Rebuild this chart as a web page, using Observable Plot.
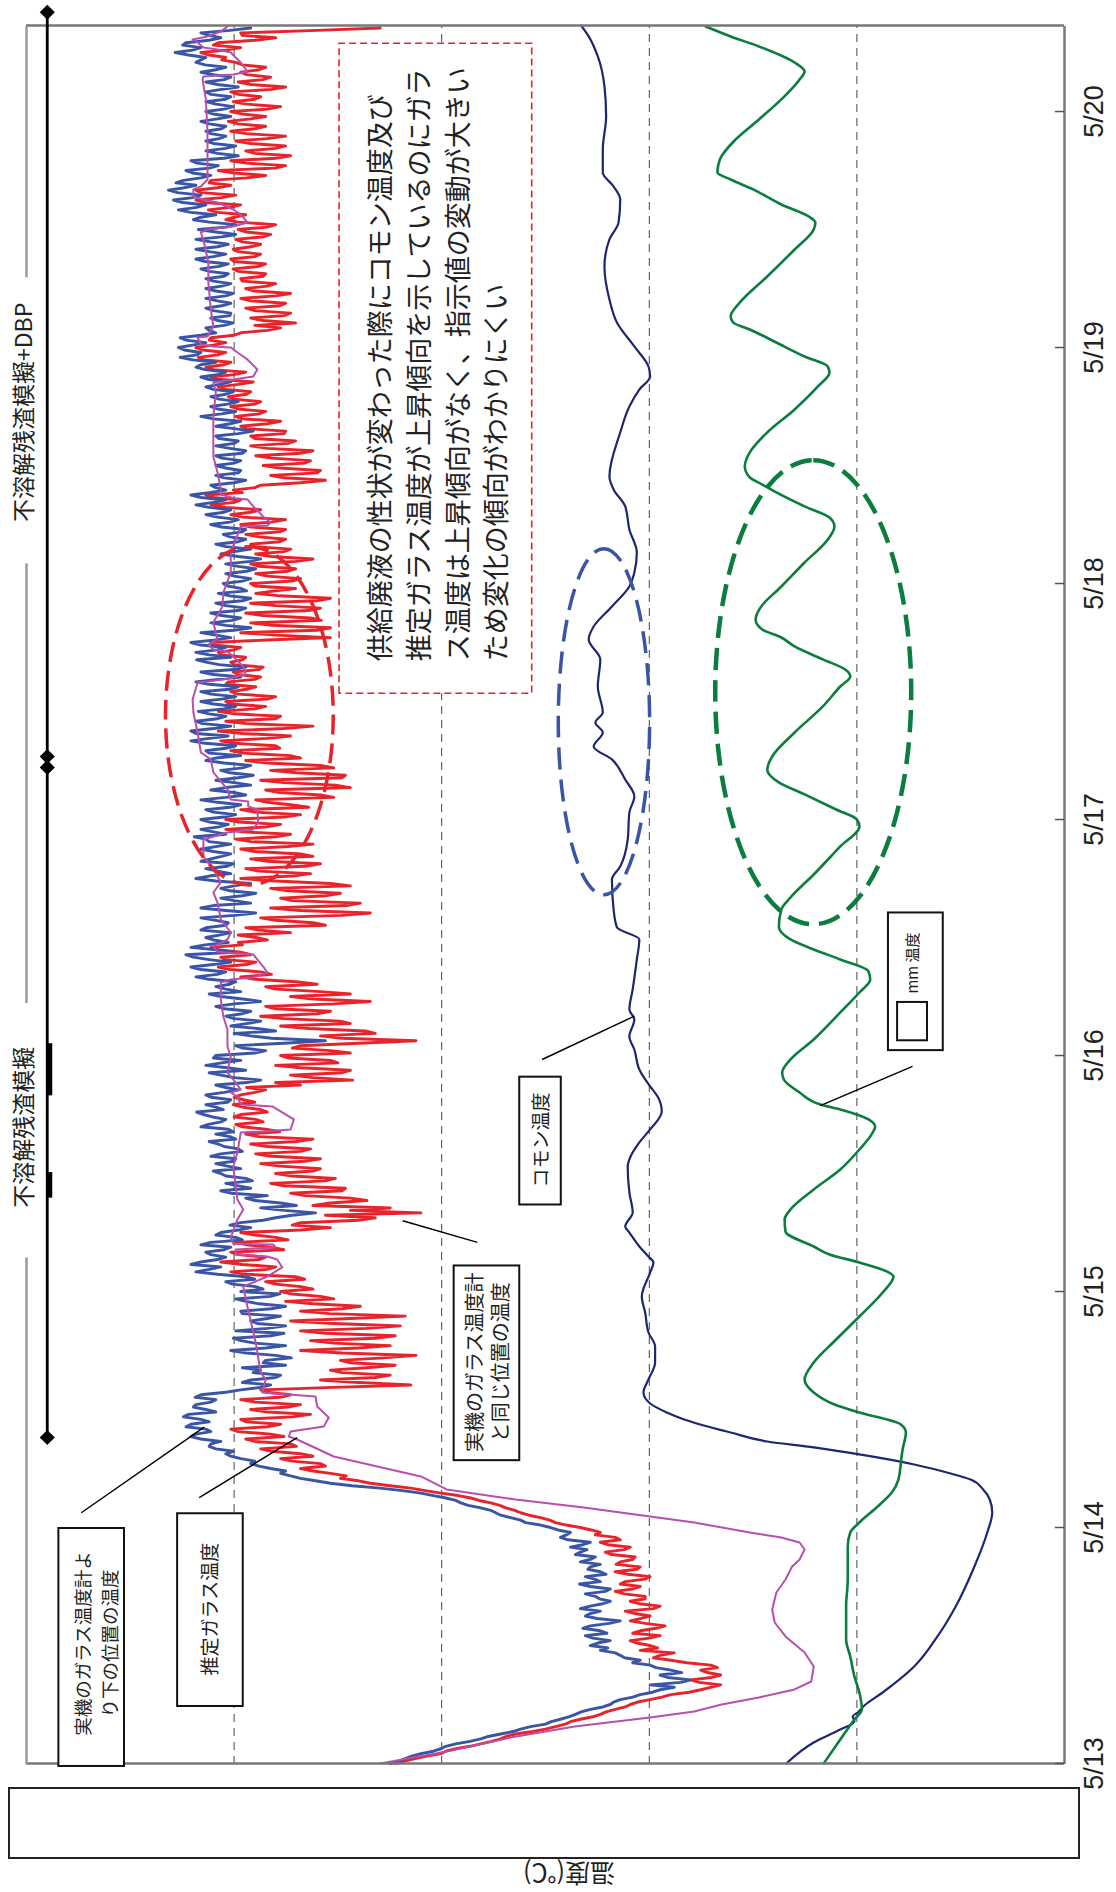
<!DOCTYPE html>
<html><head><meta charset="utf-8">
<script src="https://cdn.jsdelivr.net/npm/d3@7"></script>
<script src="https://cdn.jsdelivr.net/npm/@observablehq/plot@0.6"></script>
<style>
body{margin:0;background:#fff;}
#page{position:relative;width:1116px;height:1892px;overflow:hidden;background:#fff;}
#rot{position:absolute;left:0;top:0;width:1892px;height:1116px;transform-origin:0 0;transform:translate(0px,1892px) rotate(-90deg);}
#maskbox{position:absolute;left:8px;top:1787px;width:1068px;height:68px;border:2px solid #222;background:#fff;}
#ylabel{position:absolute;left:499px;top:1860px;width:140px;height:30px;text-align:center;font-family:"Noto Sans CJK JP";font-size:25px;line-height:30px;color:#222;transform:rotate(180deg);}
</style></head>
<body><div id="page"><div id="rot"></div><div id="maskbox"></div><div id="ylabel">温度(℃)</div></div>
<script>
// ---- time axis (hours from 5/13 00:00) ----
const dayLabels = ["5/13","5/14","5/15","5/16","5/17","5/18","5/19","5/20"];
const dayHours = [0,24,48,72,96,120,144,168];
const endHour = 176.75;
const gridTemps = [250,500,750,1000];
const stepHours = 0.25;

// 実機のガラス温度計と同じ位置の温度 (red), 15-min samples
const redTemp = [806,795,782,768,751,745,733,716,703,690,679,672,661,640,625,613,601,595,583,568,
559,552,541,529,523,514,499,485,474,452,438,426,414,440,450,425,414,430,438,418,
426,455,474,495,487,470,511,490,499,515,523,500,487,520,511,492,481,505,523,510,
499,517,529,495,487,512,523,505,505,530,541,520,511,535,529,505,499,526,541,515,
511,540,535,520,517,545,553,530,523,550,559,535,541,565,559,570,583,600,613,620,
631,645,655,662,673,680,691,705,715,730,751,770,787,812,836,850,872,865,884,905,
920,890,896,930,944,905,920,955,968,925,932,975,986,940,956,995,1004,960,944,985,
992,930,908,960,980,935,920,975,992,945,932,960,968,880,787,850,896,830,812,870,
884,840,806,860,872,820,781,870,920,850,812,880,908,830,806,890,920,840,800,880,
932,860,794,885,920,870,848,905,938,880,896,930,944,905,920,950,962,915,926,985,
1004,960,950,990,1016,970,962,995,1004,940,956,985,998,935,950,975,992,920,884,930,
920,850,830,890,775,860,812,905,884,840,860,915,932,870,866,940,956,890,878,930,
950,905,896,945,968,915,896,955,974,920,908,960,980,925,905,970,986,945,962,990,
998,965,974,1000,992,960,968,990,1001,975,989,1000,992,975,962,985,920,950,857,905,
932,870,860,920,950,875,884,935,944,860,884,930,920,850,781,870,896,830,842,910,
944,860,872,940,968,900,884,950,962,880,836,905,932,860,896,950,962,900,926,975,
992,955,968,1005,1019,985,974,1010,1016,980,992,1020,1028,990,995,960,974,995,932,970,
986,890,905,950,968,870,836,920,956,865,848,930,944,890,872,935,956,860,884,950,
992,930,908,970,986,915,896,960,980,905,920,975,992,935,905,980,998,950,932,990,
1010,960,944,995,1010,940,920,975,992,910,932,960,974,880,896,945,962,860,878,940,
968,870,866,925,956,880,896,960,986,920,932,990,1004,945,950,1000,1016,960,932,990,
1019,940,905,985,1010,950,944,1000,1019,975,962,1005,1010,960,950,995,1004,985,974,1010,
1007,975,968,995,1001,970,965,1000,1004,990,986,1015,1019,1000,992,1025,1028,960,884,950,
992,900,884,955,980,895,908,965,986,910,896,950,980,900,884,945,974,950,926,975,
980,930,920,960,974,935,926,970,980,925,905,955,974,940,932,975,980,945,938,970,
986,945,938,980,992,955,938,990,1004,980,968,1010,1028,1000,992,1025,1034,990,1001,975,
968,920,890,940,956,900,896,945,965,915,908,955,974,920,905,960,980,935,926,975,
980,940,938,985,992,960,944,990,998,970,962,995,1004,975,968,1000,1007,985,980,1010,
1019,995,977,1015,1028,1000,986,1025,1034,1012,1004,1035,1043,1020,1010,1038,1046,1025,1010,1030,
1028,1000,992,960,944,975,926,965,980,940,932,975,986,945,938,980,992,950,932,975,
986,960,950,990,992,965,962,995,1001,970,962,1000,1004,975,968,995,1001,980,968,990,
998,965,956,985,995,960,950,995,1010,1000,986,1020,1031,1005,992,1035,1046,1015,998,1040,
1046,1020,1004,1030,1028,985,962,1000,1019,950,938,985,1004,950,932,975,986,950,938,980,
998,960,938,985,1004,975,962,995,1007,980,962,990,1004,960,944,985,1001,975,968,995,
1004,955,938,980,995,965,956,985,992,970,962,990,998,1015,1010,1030,1040,1010,992,1025,
1019,975,950,990,992,900,824];

// 実機のガラス温度計より下の位置の温度 (blue), 15-min samples
const blueTemp = [812,801,794,786,775,760,751,745,733,716,703,694,679,664,655,643,625,618,607,597,
589,582,571,556,547,543,535,520,511,496,487,470,499,462,450,478,487,461,474,492,
499,520,511,530,535,541,559,550,571,562,547,568,577,551,559,580,571,548,535,563,
577,571,559,583,571,556,547,560,565,577,553,547,571,584,559,566,577,552,559,574,
571,559,583,571,565,589,583,575,595,580,571,598,607,600,595,610,619,631,649,655,
667,679,685,691,703,718,727,733,745,760,775,797,824,858,884,902,920,932,944,938,
956,970,980,975,992,1004,1010,1001,1022,1030,1028,1016,1040,1052,1046,1028,1034,1058,1052,1030,
1040,1061,1055,1022,1034,1049,1046,1028,1022,1047,1040,1010,992,968,956,990,980,950,944,977,
968,990,938,965,962,931,950,985,1004,962,938,975,992,1001,956,940,998,960,938,972,
980,960,944,990,992,955,938,970,986,998,956,945,992,965,974,1002,1010,975,986,1020,
1046,1030,1016,1052,1040,1020,1010,1028,1034,1012,1004,1040,1028,990,998,1022,1016,995,980,1005,
992,965,950,930,902,940,968,925,944,975,986,960,1004,1016,980,995,1010,978,986,1010,
1016,1025,992,1008,1022,1000,998,1028,1016,990,995,1012,1019,1030,998,1005,1022,1001,1007,1040,
1031,1016,1010,1026,1037,1045,1013,1022,1034,1008,1004,1028,1034,1012,995,1010,1022,985,968,1000,
1016,1030,986,1008,1034,1015,992,1025,1022,975,962,990,998,940,890,955,980,1000,950,972,
1004,985,968,1000,1010,990,980,1012,1022,1000,968,990,1016,1030,992,1010,1022,1005,998,1030,
1046,1020,1010,1040,1052,1025,1004,1030,1049,1058,1001,1022,1052,1035,1007,1025,1034,1018,1004,1040,
1034,1010,1007,1022,1040,1000,974,1010,1040,1025,980,1000,1016,990,974,1005,1016,1000,980,1022,
1046,1030,1004,1020,1034,1008,1001,1040,1028,1015,1004,1025,1040,1022,1004,1030,1034,1048,1010,1025,
1040,1018,1007,1030,1040,1012,998,1025,1034,1005,992,1020,1040,1010,986,1000,1028,1010,980,1000,
1022,995,977,1005,1016,990,980,1012,1034,1022,992,1030,1034,1010,998,1035,1052,1030,1007,1046,
1052,1025,1004,1038,1046,1020,1010,1030,1043,1012,998,1025,1040,1015,998,1028,1040,1005,995,1030,
1046,1020,992,1025,1040,1000,986,1018,1034,1045,1004,1030,1046,1020,1010,1040,1052,1025,1004,1022,
1040,1000,980,1010,1028,1002,992,1015,1028,995,986,1010,1022,990,980,1005,1019,985,992,1008,
1013,990,980,1000,1010,985,974,995,1010,980,968,995,1016,1000,980,1010,1022,995,986,1005,
1013,990,986,1015,1028,1005,995,1020,1034,1012,1004,1030,1046,1025,1010,1040,1052,1030,1010,1022,
1028,1000,986,1012,1022,995,992,1010,1022,1000,992,1015,1022,990,986,1005,1022,1000,995,1018,
1022,995,977,1000,1022,1005,992,1025,1040,1015,998,1020,1028,1008,995,1018,1028,1010,1001,1025,
1034,1018,1004,1030,1040,1020,1010,1035,1046,1040,1022,1050,1065,1045,1040,1060,1067,1050,1034,1058,
1065,1040,1022,1030,1034,1012,1001,1020,1028,1005,1004,1025,1034,1015,1004,1020,1034,1010,1001,1022,
1034,1015,1004,1025,1034,1012,1007,1030,1040,1018,1007,1035,1046,1025,1010,1030,1046,1020,1007,1028,
1046,1015,998,1022,1043,1010,998,1030,1049,1040,1022,1052,1067,1045,1034,1062,1073,1050,1040,1068,
1079,1060,1046,1070,1061,1040,1028,1050,1058,1030,1019,1045,1052,1012,995,1020,1034,1010,998,1025,
1034,1018,1010,1028,1034,1015,1010,1030,1040,1020,1004,1025,1034,1012,1001,1022,1034,1010,1004,1028,
1034,1015,995,1020,1034,1012,1004,1025,1040,1022,1010,1035,1046,1040,1034,1055,1071,1050,1040,1062,
1058,1030,1016,1030,1040,1005,980];

// 推定ガラス温度 (magenta)
const magHour = [0,1.22,2.64,3.76,4.68,5.29,6.0,6.71,7.53,8.34,
9.86,11.29,12.92,14.34,15.66,17.39,18.71,20.03,20.75,21.76,
22.48,22.98,23.49,24.51,25.12,26.03,26.85,27.87,29.19,31.22,
32.95,33.25,33.76,34.27,35.19,36.31,37.32,37.73,39.05,39.77,
42.82,46.48,48.51,48.92,49.53,50.45,51.26,51.56,51.77,52.27,
52.48,52.78,52.85,53.49,55.32,56.34,57.36,60.71,62.14,64.17,
64.27,64.48,65.50,66.82,67.02,67.83,68.24,68.54,69.56,70.27,
71.90,72.92,74.65,75.97,77.70,79.43,79.73,79.94,80.44,81.05,
82.28,82.40,82.55,83.09,83.80,84.51,85.83,87.56,88.58,89.60,
90.92,92.24,93.97,94.68,94.99,95.70,97.02,97.33,97.84,98.04,
99.06,100.79,102.11,102.82,104.85,106.89,108.21,109.94,110.04,110.24,
110.75,111.56,112.58,113.09,113.29,113.80,114.31,116.04,117.67,119.09,
121.13,123.16,125.80,125.90,126.21,126.82,127.84,128.55,128.70,129.06,
129.57,131.30,132.92,136.99,139.43,140.45,140.75,141.06,141.77,142.79,
143.50,144.01,144.11,144.31,145.02,145.12,146.14,147.87,150.62,152.65,
154.99,155.70,156.01,156.31,156.72,157.53,158.04,158.75,159.06,159.36,
160.08,160.38,161.09,163.43,165.87,169.23,171.26,171.57,171.77,172.08,
172.99,174.01,174.31,174.52,175.03,175.33,175.64,176.14,176.65];
const magTemp = [824,744,667,590,499,446,413,368,325,305,
302,313,336,349,352,347,336,328,319,313,
319,341,379,446,499,579,661,744,775,880,
924,934,932,892,886,900,902,966,962,968,
974,984,989,977,960,942,948,960,998,998,
950,953,1001,1004,996,989,996,1001,996,992,
965,932,928,954,992,996,1004,992,1001,1008,
1004,1008,1008,1013,1016,1016,1004,977,960,965,
977,1001,1020,1025,1008,1004,1016,1020,1025,1016,
1025,1037,1037,1008,977,971,972,983,983,1004,
1008,1025,1028,1040,1044,1049,1050,1044,1032,1014,
986,989,1001,1008,1025,1031,1020,1025,1014,1013,
1004,1004,992,960,956,965,977,984,1001,1016,
1016,1020,1025,1025,1022,1025,1001,977,972,984,
996,1004,1025,1040,1044,1032,1025,1028,1031,1031,
1037,1040,1032,1001,984,992,1001,1020,1037,1049,
1049,1040,1032,1032,1032,1034,1038,1037,1001,984,
992,1004,1020,1037,1044,1050,1032,1016,1008];

// コモン温度 (navy)
const comHour = [0,2.14,3.46,4.27,4.78,5.19,5.90,7.22,9.86,12.92,
15.97,19.73,23.49,25.53,26.85,27.87,28.88,29.49,30.41,31.43,
32.14,32.75,33.66,34.99,35.70,36.61,37.73,39.05,40.78,42.41,
43.83,45.87,47.49,49.93,50.95,51.56,52.58,54.00,54.61,56.04,
58.07,60.71,61.43,63.16,64.48,66.31,67.83,68.85,70.58,72.61,
73.94,75.66,76.68,78.72,81.77,83.80,85.02,86.85,89.90,91.22,
93.97,96.72,98.34,100.07,102.11,103.43,104.85,105.87,106.89,109.53,
112.28,114.31,115.63,117.67,119.70,121.12,123.16,125.50,127.84,129.57,
130.89,135.36,138.00,139.73,141.06,142.07,144.11,146.55,148.89,152.25,
154.99,156.72,159.06,160.38,161.80,164.14,167.50,170.55,173.60,175.64,
176.75];
const comTemp = [335,302,270,253,255,249,241,219,181,153,
131,110,93,87,90,98,113,137,181,247,
302,358,402,458,479,499,507,501,493,493,
501,505,509,499,495,501,512,524,529,520,
524,526,524,512,499,485,490,499,512,518,
524,518,524,520,515,512,539,543,545,535,
526,524,518,529,545,567,556,565,556,562,
559,573,567,545,524,518,515,524,529,543,
548,535,524,512,499,501,518,539,548,554,
548,537,535,543,556,556,552,554,562,573,
582];

// □mm 温度 (green)
const grHour = [0,2.44,4.47,5.49,7.22,8.85,10.88,12.61,15.97,18.71,
22.07,23.49,24.51,26.14,27.56,28.88,30.61,31.93,33.66,34.48,
35.70,36.51,37.73,39.05,40.78,43.12,45.46,47.90,49.53,50.04,
50.95,51.77,52.58,54.10,55.32,56.34,58.38,60.41,62.44,64.17,
64.78,65.50,66.51,67.02,68.24,69.56,70.27,71.60,73.63,76.38,
78.41,79.73,80.55,81.77,82.78,83.80,85.12,86.85,88.07,90.41,
93.26,95.29,96.00,97.02,98.55,99.77,101.09,102.41,104.85,107.50,
109.53,110.55,111.26,112.28,113.60,114.51,115.33,116.35,117.57,119.70,
122.14,124.48,125.80,126.72,127.84,129.26,130.07,130.79,131.91,133.33,
135.36,137.70,140.04,141.46,142.07,143.09,144.51,145.84,146.55,147.16,
148.58,151.23,153.97,156.01,156.72,157.33,158.55,160.08,161.09,161.80,
163.13,165.16,167.19,169.23,171.26,172.08,172.99,174.62,175.64,176.65];
const grTemp = [290,270,253,244,247,253,258,263,263,261,
261,258,247,225,208,200,197,195,191,197,
247,277,302,313,302,275,247,219,206,214,
247,283,302,336,337,330,302,270,247,231,
228,236,270,294,319,338,340,330,302,270,
247,234,236,270,302,330,344,341,330,302,
270,247,250,275,313,344,358,352,325,291,
270,258,264,291,325,341,364,372,366,341,
313,285,277,283,313,347,364,379,385,379,
358,325,297,283,285,313,347,379,399,402,
391,358,325,302,300,308,341,375,402,418,
415,396,368,341,319,313,325,368,402,432];

// ---- phases ----
const phaseStart = 33.15, phaseEnd = 178.1;
const phaseDiamonds = [33.15, 101.3, 102.4, 178.1];
const phaseThick = [[57.6,60.2],[68.0,73.3]];
const phaseLabels = [{h:64.7, text:"不溶解残渣模擬"},{h:137.4, text:"不溶解残渣模擬+DBP"}];
const frameTopSegs = [[0,51.5],[77.4,122.1],[151.2,endHour]];

// ---- annotations ----
const noteLines = ["供給廃液の性状が変わった際にコモン温度及び","推定ガラス温度が上昇傾向を示しているのにガラ","ス温度は上昇傾向がなく、指示値の変動が大きい","ため変化の傾向がわかりにくい"];
const noteBox = {h1:108.9,h2:175.0,T1:641,T2:873, th:112.1, tT:757};
const labelBoxes = [
 {h1:30.9,h2:50.7,T1:656,T2:735, th:40.8, tT:696, size:20, lh:1.3, text:"実機のガラス温度計\nと同じ位置の温度"},
 {h1:56.9,h2:69.9,T1:606,T2:656, th:63.4, tT:631, size:19, lh:1.3, text:"コモン温度"},
 {h1:5.9,h2:25.5,T1:989,T2:1068, th:15.7, tT:1030, size:19, lh:1.3, text:"推定ガラス温度"},
 {h1:-0.2,h2:24.0,T1:1132,T2:1211, th:12.2, tT:1168, size:18.5, lh:1.45, text:"実機のガラス温度計よ\nり下の位置の温度"},
 {h1:72.6,h2:86.6,T1:146,T2:212, th:null}
];
const mmSquare = {h1:73.6,h2:77.5,T1:165,T2:201};
const mmLabel = {h:78.3, T:182, text:"mm 温度"};
const leaders = [
 {h1:53.0,T1:707,h2:55.2,T2:797},
 {h1:71.6,T1:629,h2:76.0,T2:518},
 {h1:70.9,T1:183,h2:66.9,T2:294},
 {h1:27.05,T1:1042,h2:33.15,T2:924},
 {h1:25.5,T1:1184,h2:34.2,T2:1036}
];
const ellipses = [
 {h:106.6,T:981,rh:17.2,rT:101,color:"#e8232a",w:3.5,dash:"20,9"},
 {h:106.0,T:554,rh:17.6,rT:55,color:"#3a55a5",w:3.5,dash:"22,10"},
 {h:109.0,T:302,rh:23.6,rT:118,color:"#0b7d3e",w:4.5,dash:"22,10"}
];

const red = redTemp.map((T,i)=>({h:i*stepHours,T}));
const blue = blueTemp.map((T,i)=>({h:i*stepHours,T}));
const mag = magHour.map((h,i)=>({h,T:magTemp[i]}));
const com = comHour.map((h,i)=>({h,T:comTemp[i]}));
const gr = grHour.map((h,i)=>({h,T:grTemp[i]}));

const jp = "Noto Sans CJK JP";
const chart = Plot.plot({
  width:1892, height:1116,
  marginLeft:128, marginRight:26, marginTop:26, marginBottom:52,
  x:{domain:[0,endHour], axis:null},
  y:{domain:[0,1250], axis:null},
  style:{background:"white", overflow:"visible"},
  marks:[
    Plot.ruleY(gridTemps,{stroke:"#444",strokeWidth:1,strokeDasharray:"8,6"}),
    Plot.line(red,{x:"h",y:"T",stroke:"#e8232a",strokeWidth:2.9}),
    Plot.line(blue,{x:"h",y:"T",stroke:"#3a55a5",strokeWidth:2.9}),
    Plot.line(mag,{x:"h",y:"T",stroke:"#b84fae",strokeWidth:2}),
    Plot.line(com,{x:"h",y:"T",stroke:"#1f2670",strokeWidth:2.2,curve:"monotone-x"}),
    Plot.line(gr,{x:"h",y:"T",stroke:"#0b7d3e",strokeWidth:2.6,curve:"monotone-x"}),
    // frame
    Plot.ruleY([0],{stroke:"#777",strokeWidth:2.5}),
    Plot.ruleX([0,endHour],{stroke:"#777",strokeWidth:2.5}),
    Plot.ruleY(frameTopSegs,{y:()=>1250,x1:d=>d[0],x2:d=>d[1],stroke:"#999",strokeWidth:2.5}),
    // day ticks & labels
    Plot.ruleX(dayHours,{y1:0,y2:11,stroke:"#555",strokeWidth:1.5}),
    Plot.text(dayHours,{x:d=>d,text:(d,i)=>dayLabels[i],frameAnchor:"bottom",dy:38,fontSize:27,fontFamily:"Liberation Sans, Arial, sans-serif",fill:"#222"}),
    // phase bar
    Plot.ruleY([1225],{x1:phaseStart,x2:phaseEnd,stroke:"#000",strokeWidth:2.8}),
    Plot.ruleY(phaseThick,{y:()=>1222,x1:d=>d[0],x2:d=>d[1],stroke:"#000",strokeWidth:5}),
    Plot.dot(phaseDiamonds,{x:d=>d,y:()=>1225,symbol:"diamond2",r:6.8,fill:"#000",stroke:"none"}),
    Plot.text(phaseLabels,{x:"h",y:()=>1252,text:"text",fontSize:23,fontFamily:jp,fill:"#222"}),
    // note box
    Plot.rect([noteBox],{x1:"h1",x2:"h2",y1:"T1",y2:"T2",fill:"white",stroke:"#e8232a",strokeWidth:1.6,strokeDasharray:"7,4"}),
    Plot.text([noteBox],{x:"th",y:"tT",text:()=>noteLines.join("\n"),textAnchor:"start",lineAnchor:"middle",lineHeight:1.43,fontSize:27,fontFamily:jp,fill:"#222"}),
    // label boxes
    Plot.link(leaders,{x1:"h1",y1:"T1",x2:"h2",y2:"T2",stroke:"#000",strokeWidth:1.5}),
    Plot.rect(labelBoxes,{x1:"h1",x2:"h2",y1:"T1",y2:"T2",fill:"white",stroke:"#111",strokeWidth:2}),
    Plot.rect([mmSquare],{x1:"h1",x2:"h2",y1:"T1",y2:"T2",fill:"white",stroke:"#111",strokeWidth:2}),
    ...labelBoxes.filter(d=>d.th!==null).map(d=>Plot.text([d],{x:"th",y:"tT",text:"text",fontSize:d.size,lineHeight:d.lh,lineAnchor:"middle",fontFamily:jp,fill:"#222"})),
    Plot.text([mmLabel],{x:"h",y:"T",text:"text",textAnchor:"start",fontSize:15,fontFamily:jp,fill:"#222"})
  ]
});

const sx = chart.scale("x"), sy = chart.scale("y");
const svg = d3.select(chart);
for (const e of ellipses) {
  const cx = sx.apply(e.h), cy = sy.apply(e.T);
  svg.append("ellipse")
    .attr("cx",cx).attr("cy",cy)
    .attr("rx",Math.abs(sx.apply(e.h+e.rh)-cx))
    .attr("ry",Math.abs(sy.apply(e.T-e.rT)-cy))
    .attr("fill","none").attr("stroke",e.color)
    .attr("stroke-width",e.w).attr("stroke-dasharray",e.dash);
}
document.getElementById("rot").appendChild(chart);
</script>
</body></html>
